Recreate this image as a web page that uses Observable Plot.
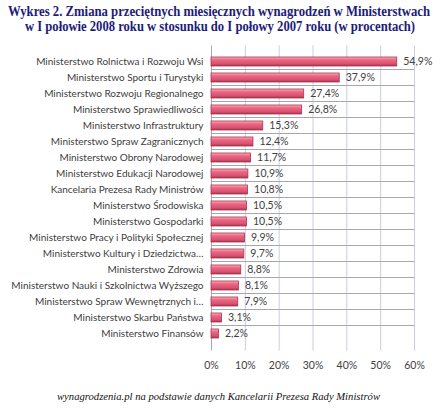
<!DOCTYPE html>
<html>
<head>
<meta charset="utf-8">
<script src="https://cdn.jsdelivr.net/npm/d3@7"></script>
<script src="https://cdn.jsdelivr.net/npm/@observablehq/plot@0.6"></script>
<style>
  body { margin: 0; background: #fff; }
  #wrap { width: 440px; height: 416px; position: relative; overflow: hidden; }
  .fitline { position: absolute; left: 220px; white-space: nowrap; transform-origin: 0 50%; }
  .title { font-family: "Liberation Serif", "DejaVu Serif", serif; font-weight: bold; font-size: 14px;
    line-height: 15px; color: #1c1c78; }
  .foot { font-family: "Liberation Serif", serif; font-style: italic; font-size: 11px; line-height: 13px; color: #111; }
  #chart { position: absolute; top: 35px; left: 0; }
</style>
</head>
<body>
<div id="wrap">
  <div class="fitline title" id="t1" style="top:4px">Wykres 2. Zmiana przeciętnych miesięcznych wynagrodzeń w Ministerstwach</div>
  <div class="fitline title" id="t2" style="top:19px">w I połowie 2008 roku w stosunku do I połowy 2007 roku (w procentach)</div>
  <div id="chart"></div>
  <div class="fitline foot" id="f1" style="top:390px">wynagrodzenia.pl na podstawie danych Kancelarii Prezesa Rady Ministrów</div>
</div>
<script>
const categories = [
  "Ministerstwo Rolnictwa i Rozwoju Wsi",
  "Ministerstwo Sportu i Turystyki",
  "Ministerstwo Rozwoju Regionalnego",
  "Ministerstwo Sprawiedliwości",
  "Ministerstwo Infrastruktury",
  "Ministerstwo Spraw Zagranicznych",
  "Ministerstwo Obrony Narodowej",
  "Ministerstwo Edukacji Narodowej",
  "Kancelaria Prezesa Rady Ministrów",
  "Ministerstwo Środowiska",
  "Ministerstwo Gospodarki",
  "Ministerstwo Pracy i Polityki Społecznej",
  "Ministerstwo Kultury i Dziedzictwa…",
  "Ministerstwo Zdrowia",
  "Ministerstwo Nauki i Szkolnictwa Wyższego",
  "Ministerstwo Spraw Wewnętrznych i…",
  "Ministerstwo Skarbu Państwa",
  "Ministerstwo Finansów"
];
const values = [54.9, 37.9, 27.4, 26.8, 15.3, 12.4, 11.7, 10.9, 10.8, 10.5, 10.5, 9.9, 9.7, 8.8, 8.1, 7.9, 3.1, 2.2];
const xTicks = [0, 10, 20, 30, 40, 50, 60];

const data = categories.map((c, i) => ({cat: c, value: values[i]}));
const fmt = v => v.toFixed(1).replace(".", ",") + "%";

const chart = Plot.plot({
  width: 440,
  height: 350,
  marginLeft: 211,
  marginRight: 26,
  marginTop: 10.5,
  marginBottom: 34.5,
  style: {fontFamily: "Lato, 'Open Sans', sans-serif", fontSize: "10px", color: "#404040", background: "white"},
  x: {domain: [0, 60], ticks: xTicks, tickFormat: d => d + "%", label: null},
  y: {domain: categories, paddingInner: 0.42, paddingOuter: 0.21, label: null},
  marks: [
    Plot.gridX(xTicks.slice(1), {stroke: "#c9cde3", strokeOpacity: 1}),
    Plot.axisX({ticks: xTicks, tickFormat: d => d + "%", tickSize: 0, tickPadding: 11, fontSize: 10.5, fill: "#404040"}),
    Plot.axisY({tickSize: 0, tickPadding: 8, fontSize: 10, fill: "#404040"}),
    Plot.ruleX([0], {stroke: "#a8a8a8"}),
    Plot.tickY(categories.slice(1), {x1: -0.6, x2: 0, stroke: "#a8a8a8", dy: -8.5}),
    Plot.barX(data, {x: "value", y: "cat", fill: "url(#barGrad)", stroke: "#a83450", strokeWidth: 0.8}),
    Plot.text(data, {x: "value", y: "cat", text: d => fmt(d.value), textAnchor: "start", dx: 6, fontSize: 10.5, fill: "#404040"})
  ]
});

const ns = "http://www.w3.org/2000/svg";
const defs = document.createElementNS(ns, "defs");
defs.innerHTML = `<linearGradient id="barGrad" x1="0" y1="0" x2="0" y2="1">
  <stop offset="0" stop-color="#f7b3c0"/>
  <stop offset="0.3" stop-color="#eb6a84"/>
  <stop offset="0.75" stop-color="#dc5070"/>
  <stop offset="1" stop-color="#a83450"/>
</linearGradient>`;
chart.insertBefore(defs, chart.firstChild);
document.getElementById("chart").appendChild(chart);

function fit(id, target, center) {
  const el = document.getElementById(id);
  const w = el.getBoundingClientRect().width;
  const s = w > 0 ? target / w : 1;
  el.style.left = (center - target / 2) + "px";
  el.style.transform = `scaleX(${s})`;
}
fit("t1", 422, 219);
fit("t2", 390, 220);
fit("f1", 323, 218);
</script>
</body>
</html>
